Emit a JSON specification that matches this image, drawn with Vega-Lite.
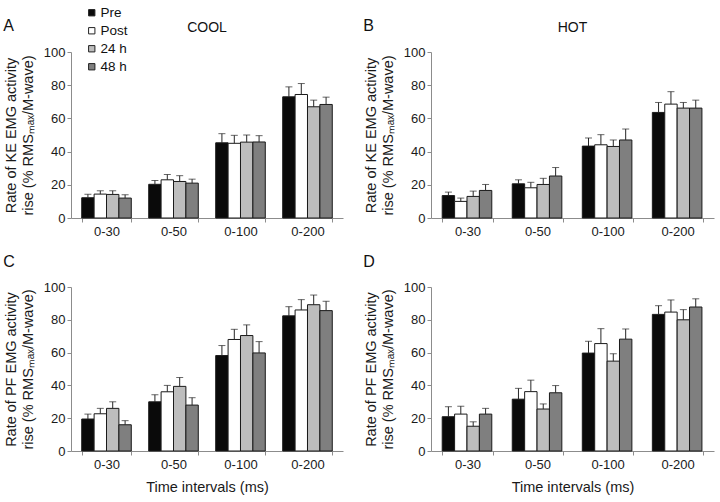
{
  "$schema": "https://vega.github.io/schema/vega-lite/v6.json",
  "padding": {"left": 3, "top": 6, "right": 3, "bottom": 3},
  "background": "white",
  "datasets": {
    "emg": [
      {"panel": "A", "interval": "0-30", "cond": "Pre", "mean": 12.2, "upper": 14.3},
      {"panel": "A", "interval": "0-30", "cond": "Post", "mean": 14.4, "upper": 16.4},
      {"panel": "A", "interval": "0-30", "cond": "24 h", "mean": 14.2, "upper": 16.4},
      {"panel": "A", "interval": "0-30", "cond": "48 h", "mean": 12.0, "upper": 14.0},
      {"panel": "A", "interval": "0-50", "cond": "Pre", "mean": 20.3, "upper": 22.6},
      {"panel": "A", "interval": "0-50", "cond": "Post", "mean": 23.0, "upper": 26.2},
      {"panel": "A", "interval": "0-50", "cond": "24 h", "mean": 22.0, "upper": 25.5},
      {"panel": "A", "interval": "0-50", "cond": "48 h", "mean": 21.0, "upper": 23.4},
      {"panel": "A", "interval": "0-100", "cond": "Pre", "mean": 45.3, "upper": 50.8},
      {"panel": "A", "interval": "0-100", "cond": "Post", "mean": 45.0, "upper": 49.8},
      {"panel": "A", "interval": "0-100", "cond": "24 h", "mean": 45.7, "upper": 50.0},
      {"panel": "A", "interval": "0-100", "cond": "48 h", "mean": 45.8, "upper": 49.6},
      {"panel": "A", "interval": "0-200", "cond": "Pre", "mean": 73.0, "upper": 79.0},
      {"panel": "A", "interval": "0-200", "cond": "Post", "mean": 74.4, "upper": 81.0},
      {"panel": "A", "interval": "0-200", "cond": "24 h", "mean": 67.0, "upper": 71.0},
      {"panel": "A", "interval": "0-200", "cond": "48 h", "mean": 68.4, "upper": 72.8},
      {"panel": "B", "interval": "0-30", "cond": "Pre", "mean": 13.5, "upper": 15.6},
      {"panel": "B", "interval": "0-30", "cond": "Post", "mean": 10.0, "upper": 12.0},
      {"panel": "B", "interval": "0-30", "cond": "24 h", "mean": 13.0, "upper": 16.2},
      {"panel": "B", "interval": "0-30", "cond": "48 h", "mean": 16.6, "upper": 20.2},
      {"panel": "B", "interval": "0-50", "cond": "Pre", "mean": 20.6, "upper": 23.0},
      {"panel": "B", "interval": "0-50", "cond": "Post", "mean": 18.2, "upper": 21.5},
      {"panel": "B", "interval": "0-50", "cond": "24 h", "mean": 20.2, "upper": 23.9},
      {"panel": "B", "interval": "0-50", "cond": "48 h", "mean": 25.3, "upper": 30.4},
      {"panel": "B", "interval": "0-100", "cond": "Pre", "mean": 43.3, "upper": 48.2},
      {"panel": "B", "interval": "0-100", "cond": "Post", "mean": 44.1, "upper": 50.2},
      {"panel": "B", "interval": "0-100", "cond": "24 h", "mean": 43.1, "upper": 47.0},
      {"panel": "B", "interval": "0-100", "cond": "48 h", "mean": 47.0, "upper": 53.6},
      {"panel": "B", "interval": "0-200", "cond": "Pre", "mean": 63.6, "upper": 69.6},
      {"panel": "B", "interval": "0-200", "cond": "Post", "mean": 68.6, "upper": 76.1},
      {"panel": "B", "interval": "0-200", "cond": "24 h", "mean": 66.2, "upper": 69.6},
      {"panel": "B", "interval": "0-200", "cond": "48 h", "mean": 66.2, "upper": 71.0},
      {"panel": "C", "interval": "0-30", "cond": "Pre", "mean": 19.5, "upper": 22.5},
      {"panel": "C", "interval": "0-30", "cond": "Post", "mean": 22.7, "upper": 26.0},
      {"panel": "C", "interval": "0-30", "cond": "24 h", "mean": 26.0, "upper": 30.0},
      {"panel": "C", "interval": "0-30", "cond": "48 h", "mean": 16.0, "upper": 18.5},
      {"panel": "C", "interval": "0-50", "cond": "Pre", "mean": 30.0, "upper": 34.3},
      {"panel": "C", "interval": "0-50", "cond": "Post", "mean": 36.1, "upper": 40.0},
      {"panel": "C", "interval": "0-50", "cond": "24 h", "mean": 39.4, "upper": 44.8},
      {"panel": "C", "interval": "0-50", "cond": "48 h", "mean": 28.0, "upper": 32.5},
      {"panel": "C", "interval": "0-100", "cond": "Pre", "mean": 58.2, "upper": 64.3},
      {"panel": "C", "interval": "0-100", "cond": "Post", "mean": 68.0, "upper": 74.2},
      {"panel": "C", "interval": "0-100", "cond": "24 h", "mean": 70.4, "upper": 76.9},
      {"panel": "C", "interval": "0-100", "cond": "48 h", "mean": 59.8, "upper": 66.7},
      {"panel": "C", "interval": "0-200", "cond": "Pre", "mean": 82.4, "upper": 88.0},
      {"panel": "C", "interval": "0-200", "cond": "Post", "mean": 86.0, "upper": 92.3},
      {"panel": "C", "interval": "0-200", "cond": "24 h", "mean": 89.2, "upper": 95.1},
      {"panel": "C", "interval": "0-200", "cond": "48 h", "mean": 85.6, "upper": 91.3},
      {"panel": "D", "interval": "0-30", "cond": "Pre", "mean": 20.9, "upper": 27.0},
      {"panel": "D", "interval": "0-30", "cond": "Post", "mean": 22.5, "upper": 27.3},
      {"panel": "D", "interval": "0-30", "cond": "24 h", "mean": 15.1, "upper": 17.8},
      {"panel": "D", "interval": "0-30", "cond": "48 h", "mean": 22.5, "upper": 26.0},
      {"panel": "D", "interval": "0-50", "cond": "Pre", "mean": 31.6, "upper": 38.2},
      {"panel": "D", "interval": "0-50", "cond": "Post", "mean": 36.2, "upper": 43.2},
      {"panel": "D", "interval": "0-50", "cond": "24 h", "mean": 25.6, "upper": 28.7},
      {"panel": "D", "interval": "0-50", "cond": "48 h", "mean": 35.5, "upper": 39.9},
      {"panel": "D", "interval": "0-100", "cond": "Pre", "mean": 59.7, "upper": 66.9},
      {"panel": "D", "interval": "0-100", "cond": "Post", "mean": 65.5, "upper": 74.6},
      {"panel": "D", "interval": "0-100", "cond": "24 h", "mean": 54.8, "upper": 59.3},
      {"panel": "D", "interval": "0-100", "cond": "48 h", "mean": 68.2, "upper": 74.4},
      {"panel": "D", "interval": "0-200", "cond": "Pre", "mean": 83.3, "upper": 88.6},
      {"panel": "D", "interval": "0-200", "cond": "Post", "mean": 84.7, "upper": 92.1},
      {"panel": "D", "interval": "0-200", "cond": "24 h", "mean": 80.0, "upper": 86.2},
      {"panel": "D", "interval": "0-200", "cond": "48 h", "mean": 87.8, "upper": 92.8}
    ]
  },
  "vconcat": [
    {
      "hconcat": [
        {
          "title": {"text": "A", "anchor": "start", "frame": "bounds", "fontSize": 16, "offset": 0, "dy": 13},
          "vconcat": [
            {
              "width": 272, "height": 166,
              "title": {"text": "COOL", "anchor": "middle", "fontSize": 14, "offset": 11},
              "data": {"name": "emg"},
              "transform": [{"filter": "datum.panel === 'A'"}],
              "encoding": {
                "x": {"field": "interval", "type": "nominal", "sort": ["0-30", "0-50", "0-100", "0-200"], "scale": {"paddingInner": 0.26, "paddingOuter": 0.16}, "axis": {"title": null, "labelAngle": 0, "tickBand": "extent"}},
                "xOffset": {"field": "cond", "type": "nominal", "sort": ["Pre", "Post", "24 h", "48 h"]},
                "y": {"field": "mean", "type": "quantitative", "scale": {"domain": [0, 100]}, "axis": {"values": [0, 20, 40, 60, 80, 100], "labelOverlap": false, "title": ["Rate of KE EMG activity", "rise (% RMSₘₐₓ/M-wave)"]}}
              },
              "layer": [
                {"mark": {"type": "bar", "stroke": "#1a1a1a", "strokeWidth": 1},
                 "encoding": {
                   "color": {"field": "cond", "type": "nominal", "sort": ["Pre", "Post", "24 h", "48 h"], "scale": {"domain": ["Pre", "Post", "24 h", "48 h"], "range": ["#0a0a0a", "#ffffff", "#bdbdbd", "#7f7f7f"]}, "title": null}
                 }},
                {"mark": {"type": "rule", "color": "#262626", "strokeWidth": 1},
                 "encoding": {"y2": {"field": "upper"}}},
                {"mark": {"type": "tick", "color": "#262626", "size": 7, "thickness": 1},
                 "encoding": {"y": {"field": "upper", "type": "quantitative", "axis": {"values": [0, 20, 40, 60, 80, 100], "labelOverlap": false, "title": ["Rate of KE EMG activity", "rise (% RMSₘₐₓ/M-wave)"]}}}}
              ]
            }
          ]
        },
        {
          "title": {"text": "B", "anchor": "start", "frame": "bounds", "fontSize": 16, "offset": 0, "dy": 13},
          "vconcat": [
            {
              "width": 283, "height": 166,
              "title": {"text": "HOT", "anchor": "middle", "fontSize": 14, "offset": 11},
              "data": {"name": "emg"},
              "transform": [{"filter": "datum.panel === 'B'"}],
              "encoding": {
                "x": {"field": "interval", "type": "nominal", "sort": ["0-30", "0-50", "0-100", "0-200"], "scale": {"paddingInner": 0.28, "paddingOuter": 0.16}, "axis": {"title": null, "labelAngle": 0, "tickBand": "extent"}},
                "xOffset": {"field": "cond", "type": "nominal", "sort": ["Pre", "Post", "24 h", "48 h"]},
                "y": {"field": "mean", "type": "quantitative", "scale": {"domain": [0, 100]}, "axis": {"values": [0, 20, 40, 60, 80, 100], "labelOverlap": false, "title": ["Rate of KE EMG activity", "rise (% RMSₘₐₓ/M-wave)"]}}
              },
              "layer": [
                {"mark": {"type": "bar", "stroke": "#1a1a1a", "strokeWidth": 1},
                 "encoding": {
                   "color": {"field": "cond", "type": "nominal", "sort": ["Pre", "Post", "24 h", "48 h"], "title": null}
                 }},
                {"mark": {"type": "rule", "color": "#262626", "strokeWidth": 1},
                 "encoding": {"y2": {"field": "upper"}}},
                {"mark": {"type": "tick", "color": "#262626", "size": 7, "thickness": 1},
                 "encoding": {"y": {"field": "upper", "type": "quantitative", "axis": {"values": [0, 20, 40, 60, 80, 100], "labelOverlap": false, "title": ["Rate of KE EMG activity", "rise (% RMSₘₐₓ/M-wave)"]}}}}
              ]
            }
          ]
        }
      ]
    },
    {
      "hconcat": [
        {
          "width": 272, "height": 164,
          "title": {"text": "C", "anchor": "start", "frame": "bounds", "fontSize": 16, "offset": 11},
          "data": {"name": "emg"},
          "transform": [{"filter": "datum.panel === 'C'"}],
          "encoding": {
            "x": {"field": "interval", "type": "nominal", "sort": ["0-30", "0-50", "0-100", "0-200"], "scale": {"paddingInner": 0.26, "paddingOuter": 0.16}, "axis": {"title": "Time intervals (ms)", "labelAngle": 0, "tickBand": "extent"}},
            "xOffset": {"field": "cond", "type": "nominal", "sort": ["Pre", "Post", "24 h", "48 h"]},
            "y": {"field": "mean", "type": "quantitative", "scale": {"domain": [0, 100]}, "axis": {"values": [0, 20, 40, 60, 80, 100], "labelOverlap": false, "title": ["Rate of PF EMG activity", "rise (% RMSₘₐₓ/M-wave)"]}}
          },
          "layer": [
            {"mark": {"type": "bar", "stroke": "#1a1a1a", "strokeWidth": 1},
             "encoding": {
               "color": {"field": "cond", "type": "nominal", "sort": ["Pre", "Post", "24 h", "48 h"], "title": null}
             }},
            {"mark": {"type": "rule", "color": "#262626", "strokeWidth": 1},
             "encoding": {"y2": {"field": "upper"}}},
            {"mark": {"type": "tick", "color": "#262626", "size": 7, "thickness": 1},
             "encoding": {"y": {"field": "upper", "type": "quantitative", "axis": {"values": [0, 20, 40, 60, 80, 100], "labelOverlap": false, "title": ["Rate of PF EMG activity", "rise (% RMSₘₐₓ/M-wave)"]}}}}
          ]
        },
        {
          "width": 283, "height": 164,
          "title": {"text": "D", "anchor": "start", "frame": "bounds", "fontSize": 16, "offset": 11},
          "data": {"name": "emg"},
          "transform": [{"filter": "datum.panel === 'D'"}],
          "encoding": {
            "x": {"field": "interval", "type": "nominal", "sort": ["0-30", "0-50", "0-100", "0-200"], "scale": {"paddingInner": 0.28, "paddingOuter": 0.16}, "axis": {"title": "Time intervals (ms)", "labelAngle": 0, "tickBand": "extent"}},
            "xOffset": {"field": "cond", "type": "nominal", "sort": ["Pre", "Post", "24 h", "48 h"]},
            "y": {"field": "mean", "type": "quantitative", "scale": {"domain": [0, 100]}, "axis": {"values": [0, 20, 40, 60, 80, 100], "labelOverlap": false, "title": ["Rate of PF EMG activity", "rise (% RMSₘₐₓ/M-wave)"]}}
          },
          "layer": [
            {"mark": {"type": "bar", "stroke": "#1a1a1a", "strokeWidth": 1},
             "encoding": {
               "color": {"field": "cond", "type": "nominal", "sort": ["Pre", "Post", "24 h", "48 h"], "title": null}
             }},
            {"mark": {"type": "rule", "color": "#262626", "strokeWidth": 1},
             "encoding": {"y2": {"field": "upper"}}},
            {"mark": {"type": "tick", "color": "#262626", "size": 7, "thickness": 1},
             "encoding": {"y": {"field": "upper", "type": "quantitative", "axis": {"values": [0, 20, 40, 60, 80, 100], "labelOverlap": false, "title": ["Rate of PF EMG activity", "rise (% RMSₘₐₓ/M-wave)"]}}}}
          ]
        }
      ]
    }
  ],
  "spacing": 16,
  "config": {
    "font": "Liberation Sans",
    "view": {"stroke": null},
    "concat": {"spacing": 20},
    "title": {"fontWeight": "normal", "color": "#111111", "font": "Liberation Sans"},
    "axis": {"grid": false, "labelFontSize": 13, "labelColor": "#1a1a1a", "titleFontSize": 14.5, "titleFontWeight": "normal", "titleColor": "#1a1a1a", "domainColor": "#8c8c8c", "tickColor": "#8c8c8c", "tickSize": 4, "labelPadding": 2},
    "axisY": {"titlePadding": 8, "titleLineHeight": 17},
    "axisX": {"titlePadding": 9, "labelPadding": 3},
    "legend": {"orient": "none", "legendX": 14, "legendY": -46, "padding": 0, "symbolType": "square", "symbolSize": 40, "symbolStrokeColor": "#222222", "symbolStrokeWidth": 1, "labelFontSize": 13.5, "labelColor": "#111111", "rowPadding": 3, "labelOffset": 2}
  }
}
